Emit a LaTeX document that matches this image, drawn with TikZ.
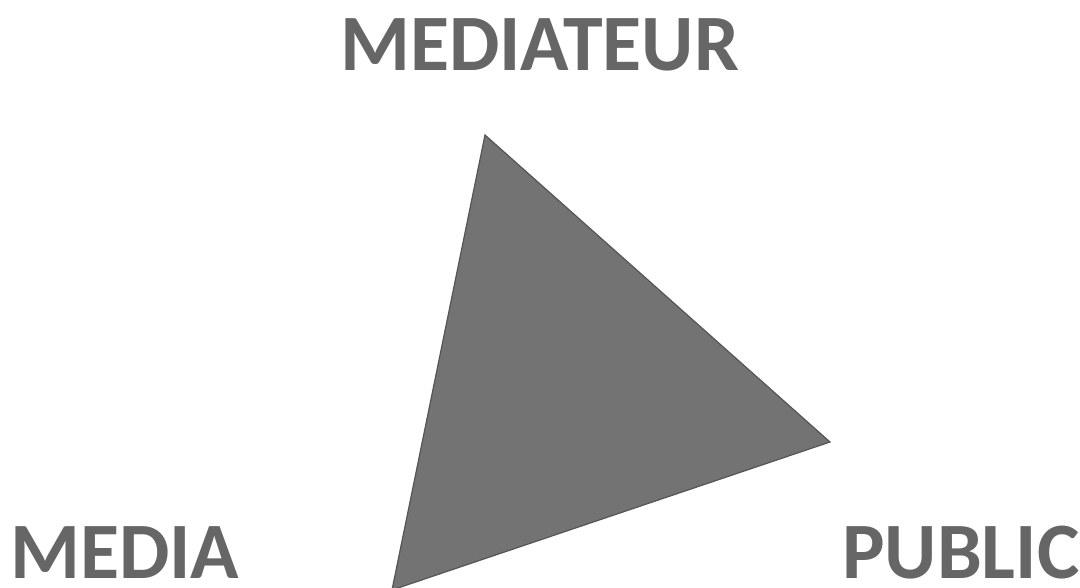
\documentclass[tikz,border=0pt]{standalone}
\usepackage{fontspec}
\setmainfont{Carlito}
\definecolor{labelgray}{HTML}{666666}
\definecolor{trifill}{HTML}{737373}
\definecolor{triedge}{HTML}{555555}
\tikzset{
  lbl/.style={font=\fontsize{80}{80}\selectfont\bfseries, text=labelgray, inner sep=0pt, text depth=0pt, anchor=base west},
  tri/.style={fill=trifill, draw=triedge, line width=1.2pt, line join=miter}
}
\begin{document}
\begin{tikzpicture}[x=1pt,y=-1pt]
\useasboundingbox (0,0) rectangle (1080,587);
\fill[white] (0,0) rectangle (1080,587);
\coordinate (top) at (485,135);
\coordinate (right) at (830,442);
\coordinate (bottom) at (392,590);
\draw[tri] (top) -- (right) -- (bottom) -- cycle;
\node[lbl] (mediateur) at (340,70) {MEDIATEUR};
\node[lbl] (media) at (10,578) {MEDIA};
\node[lbl] (public) at (842,578) {PUBLIC};
\end{tikzpicture}
\end{document}
